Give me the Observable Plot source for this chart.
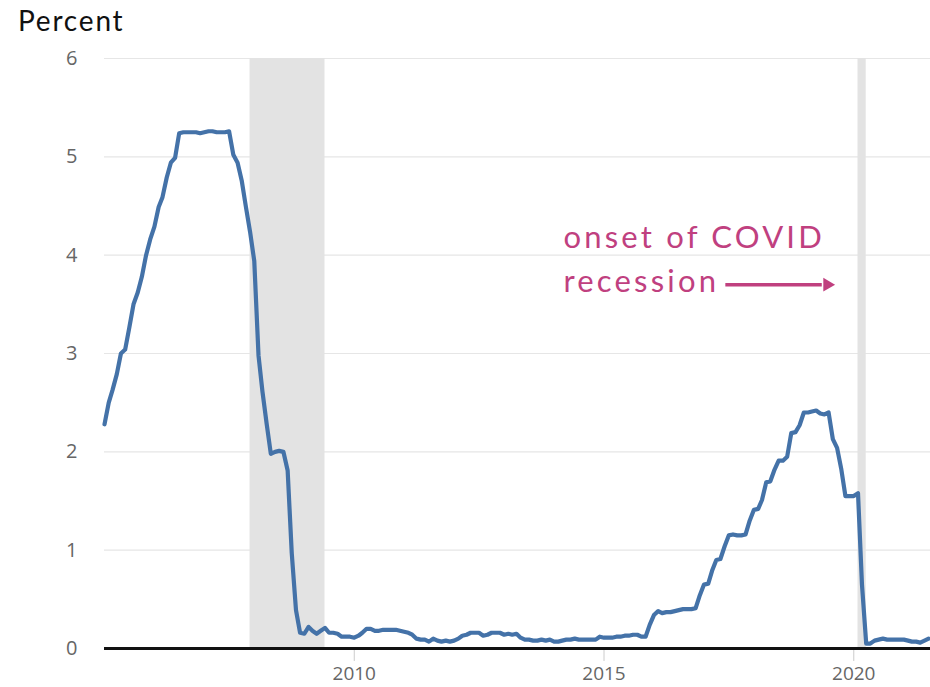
<!DOCTYPE html>
<html><head><meta charset="utf-8">
<script src="https://cdn.jsdelivr.net/npm/d3@7"></script>
<script src="https://cdn.jsdelivr.net/npm/@observablehq/plot@0.6"></script>
<style>
body{margin:0;background:#fff;}
#wrap{position:relative;width:930px;height:687px;overflow:hidden;}
#title{position:absolute;left:18px;top:3px;font-family:Lato,"Noto Sans",sans-serif;font-size:28px;letter-spacing:1.8px;color:#111;}
#wrap svg{position:absolute;left:0;top:0;}
</style></head><body>
<div id="wrap"><div id="title">Percent</div></div>
<script>
// Monthly effective federal funds rate, starting January 2005
const startMonth = "2005-01-01";
const rates = [
  2.28,2.50,2.63,2.79,3.00,3.04,3.26,3.50,3.62,3.78,4.00,4.16, // 2005
  4.29,4.49,4.59,4.79,4.94,4.99,5.24,5.25,5.25,5.25,5.25,5.24, // 2006
  5.25,5.26,5.26,5.25,5.25,5.25,5.26,5.02,4.94,4.76,4.49,4.24, // 2007
  3.94,2.98,2.61,2.28,1.98,2.00,2.01,2.00,1.81,0.97,0.39,0.16, // 2008
  0.15,0.22,0.18,0.15,0.18,0.21,0.16,0.16,0.15,0.12,0.12,0.12, // 2009
  0.11,0.13,0.16,0.20,0.20,0.18,0.18,0.19,0.19,0.19,0.19,0.18, // 2010
  0.17,0.16,0.14,0.10,0.09,0.09,0.07,0.10,0.08,0.07,0.08,0.07, // 2011
  0.08,0.10,0.13,0.14,0.16,0.16,0.16,0.13,0.14,0.16,0.16,0.16, // 2012
  0.14,0.15,0.14,0.15,0.11,0.09,0.09,0.08,0.08,0.09,0.08,0.09, // 2013
  0.07,0.07,0.08,0.09,0.09,0.10,0.09,0.09,0.09,0.09,0.09,0.12, // 2014
  0.11,0.11,0.11,0.12,0.12,0.13,0.13,0.14,0.14,0.12,0.12,0.24, // 2015
  0.34,0.38,0.36,0.37,0.37,0.38,0.39,0.40,0.40,0.40,0.41,0.54, // 2016
  0.65,0.66,0.79,0.90,0.91,1.04,1.15,1.16,1.15,1.15,1.16,1.30, // 2017
  1.41,1.42,1.51,1.69,1.70,1.82,1.91,1.91,1.95,2.19,2.20,2.27, // 2018
  2.40,2.40,2.41,2.42,2.39,2.38,2.40,2.13,2.04,1.83,1.55,1.55, // 2019
  1.55,1.58,0.65,0.05,0.05,0.08,0.09,0.10,0.09,0.09,0.09,0.09, // 2020
  0.09,0.08,0.07,0.07,0.06,0.08,0.10                           // 2021
];
const recessionStarts = ["2007-12-01", "2020-02-01"];
const recessionEnds   = ["2009-06-01", "2020-04-01"];
const yTicks = [0, 1, 2, 3, 4, 5, 6];
const xTickYears = [2010, 2015, 2020];
const xDomain = ["2005-01-01", "2021-07-15"];
const annotationLines = ["onset of COVID", "recession"];
const annotationDate = "2014-03-10";
const annotationValues = [4.17, 3.73];
const arrowFrom = "2017-06-06", arrowTo = "2019-05-12", arrowHead = "2019-06-21", arrowValue = 3.70;

const start = new Date(startMonth);
const data = rates.map((v, i) => ({date: d3.utcMonth.offset(start, i), value: v}));
const recessions = recessionStarts.map((s, i) => ({start: new Date(s), end: new Date(recessionEnds[i])}));
const notes = annotationLines.map((t, i) => ({text: t, date: new Date(annotationDate), value: annotationValues[i]}));
const accent = "#c0407f";

const chart = Plot.plot({
  width: 930,
  height: 687,
  marginLeft: 104,
  marginRight: 0,
  marginTop: 58,
  marginBottom: 39,
  style: {fontFamily: "'Open Sans', sans-serif", fontSize: "19px", background: "transparent"},
  x: {type: "utc", domain: xDomain.map(d => new Date(d))},
  y: {domain: [0, 6]},
  marks: [
    Plot.gridY(yTicks.filter(d => d > 0), {stroke: "#e6e6e6", strokeOpacity: 1, strokeWidth: 1.2}),
    Plot.rectX(recessions, {x1: "start", x2: "end", fill: "#e3e3e3"}),
    Plot.axisY({ticks: yTicks, tickFormat: d3.format("d"), tickSize: 0, tickPadding: 27, fill: "#666", fontSize: 20}),
    Plot.axisX({ticks: xTickYears.map(y => new Date(Date.UTC(y, 0, 1))), tickFormat: "%Y", tickSize: 13, tickPadding: 5, stroke: "#ccc", fill: "#666", fontSize: 19}),
    Plot.ruleY([0], {stroke: "#111", strokeWidth: 3}),
    Plot.line(data, {x: "date", y: "value", stroke: "#4472a8", strokeWidth: 4.2, strokeLinejoin: "round"}),
    Plot.text(notes, {x: "date", y: "value", text: "text", textAnchor: "start", lineAnchor: "middle", fill: accent, fontSize: 31, fontFamily: "Lato, 'Noto Sans', sans-serif"}),
    Plot.link([{x1: new Date(arrowFrom), x2: new Date(arrowTo), y: arrowValue}], {x1: "x1", x2: "x2", y1: "y", y2: "y", stroke: accent, strokeWidth: 3.5}),
    Plot.dot([{x: new Date(arrowHead), y: arrowValue}], {x: "x", y: "y", symbol: "triangle2", r: 6.5, rotate: 90, fill: accent})
  ]
});
chart.querySelectorAll("text").forEach(t => {
  const g = t.closest("g");
  if (g && g.getAttribute("fill") === accent) t.style.letterSpacing = "3.2px";
});
document.getElementById("wrap").appendChild(chart);
</script>
</body></html>
